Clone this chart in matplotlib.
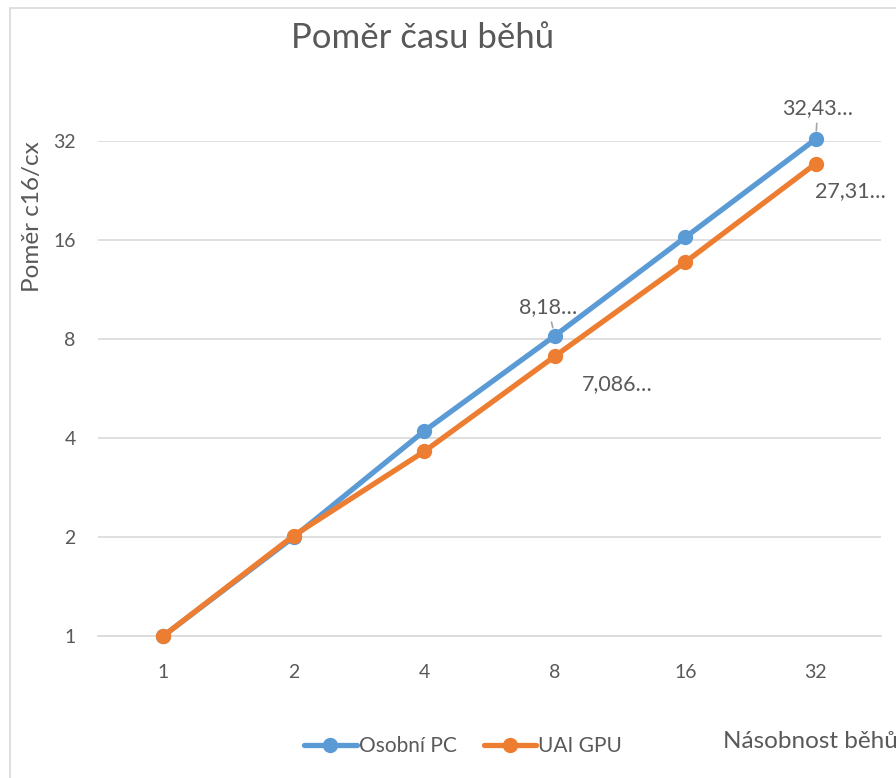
import numpy as np
import matplotlib.pyplot as plt
from matplotlib.patches import Rectangle

plt.rcParams['font.family'] = ['Lato', 'DejaVu Sans']

categories = ['1', '2', '4', '8', '16', '32']
osobni_pc = [1, 2, 4.2, 8.18, 16.3, 32.43]
uai_gpu = [1, 2.02, 3.64, 7.086, 13.7, 27.31]
yticks = [1, 2, 4, 8, 16, 32]

# data labels shown in the chart (index, text)
pc_labels = [(3, '8,18…'), (5, '32,43…')]
gpu_labels = [(3, '7,086…'), (5, '27,31…')]

blue = '#5B9BD5'
orange = '#ED7D31'
grey = '#595959'
grid = '#D9D9D9'

fig = plt.figure(figsize=(8.96, 7.78), dpi=100)
fig.patches.append(Rectangle((10/896, -0.1), 1.2, 1 - 8/778 + 0.1,
                             transform=fig.transFigure, fill=False,
                             edgecolor=grid, lw=1.2))

ax = fig.add_axes([98/896, 1 - 636/778, (881 - 98)/896, (636 - 141)/778])
x = np.arange(len(categories))

ax.plot(x, osobni_pc, '-o', color=blue, lw=3.8, ms=10, label='Osobní PC',
        solid_capstyle='round', zorder=3, clip_on=False)
ax.plot(x, uai_gpu, '-o', color=orange, lw=3.8, ms=10, label='UAI GPU',
        solid_capstyle='round', zorder=4, clip_on=False)

ax.set_yscale('log', base=2)
ax.set_ylim(1, 32)
ax.set_xlim(-0.5, len(categories) - 0.5)
ax.set_yticks(yticks)
ax.set_yticklabels([str(t) for t in yticks])
ax.minorticks_off()
ax.set_xticks(x)
ax.set_xticklabels(categories)
ax.tick_params(length=0, labelsize=14, labelcolor=grey)
ax.tick_params(axis='y', pad=16)
ax.tick_params(axis='x', pad=20)
ax.grid(axis='y', color=grid, lw=1.2)
for s in ['top', 'right', 'left']:
    ax.spines[s].set_visible(False)
ax.spines['bottom'].set_color(grid)
ax.spines['bottom'].set_linewidth(1.2)
ax.set_axisbelow(True)
ax.patch.set_alpha(0)

# data labels
leader = dict(arrowstyle='-', color='#A6A6A6', lw=1.2, shrinkA=2, shrinkB=6)
lab = dict(textcoords='offset points', ha='center', va='center', fontsize=15.5,
           color=grey, annotation_clip=False)
i, t = pc_labels[0]
ax.annotate(t, (x[i], osobni_pc[i]), xytext=(-5, 21), arrowprops=leader, **lab)
i, t = pc_labels[1]
ax.annotate(t, (x[i], osobni_pc[i]), xytext=(1.5, 22.5), arrowprops=leader, **lab)
i, t = gpu_labels[0]
ax.annotate(t, (x[i], uai_gpu[i]), xytext=(45, -20), **lab)
i, t = gpu_labels[1]
ax.annotate(t, (x[i], uai_gpu[i]), xytext=(25, -20), **lab)

fig.text(423/896, 1 - 38/778, 'Poměr času běhů', ha='center', va='center',
         fontsize=25, color=grey)
fig.text(33/896, 1 - 217/778, 'Poměr c16/cx', rotation=90, ha='center',
         va='center', fontsize=17.5, color=grey)
fig.text(723/896, 1 - 741/778, 'Násobnost běhů', ha='left', va='center',
         fontsize=17.5, color=grey)

fig.legend(loc='center', bbox_to_anchor=(463/896, 1 - 746/778), ncol=2,
           frameon=False, fontsize=15, labelcolor=grey, handlelength=2.5,
           handletextpad=0.1, columnspacing=1.3)

fig.savefig('out.png', dpi=100)
